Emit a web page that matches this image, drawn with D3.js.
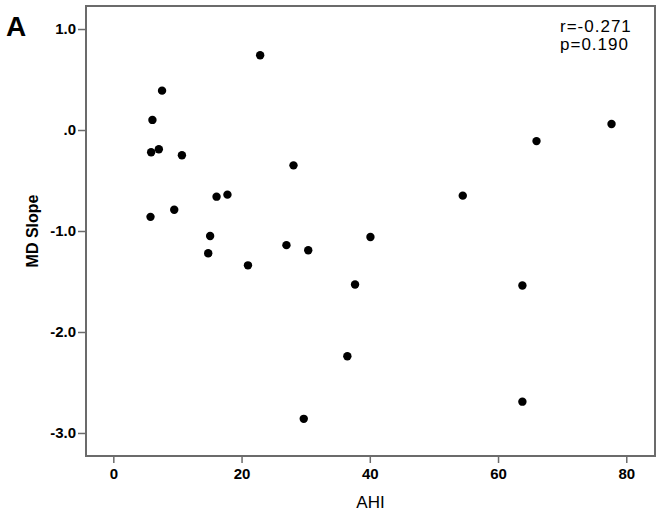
<!DOCTYPE html>
<html>
<head>
<meta charset="utf-8">
<script src="https://cdn.jsdelivr.net/npm/d3@7"></script>
<style>
  body { margin: 0; background: #fff; }
  text { font-family: "Liberation Sans", Arial, sans-serif; }
</style>
</head>
<body>
<script>
// AHI (x) and MD slope (y) for each subject
var ahi = [22.9, 7.6, 6.1, 5.9, 7.1, 10.7, 28.1, 16.1, 17.8, 9.5, 5.8, 15.1, 14.8,
  21.0, 27.0, 30.4, 36.5, 29.7, 77.7, 66.0, 54.5, 40.1, 37.7, 63.8, 63.8];
var mdSlope = [0.74, 0.39, 0.10, -0.22, -0.19, -0.25, -0.35, -0.66, -0.64, -0.79, -0.86, -1.05, -1.22,
  -1.34, -1.14, -1.19, -2.24, -2.86, 0.06, -0.11, -0.65, -1.06, -1.53, -1.54, -2.69];

var xTicks = [0, 20, 40, 60, 80];
var yTicks = [1, 0, -1, -2, -3];
var yTickLabels = ['1.0', '.0', '-1.0', '-2.0', '-3.0'];
var statLines = ['r=-0.271', 'p=0.190'];

var W = 663, H = 514;
var margin = {top: 6, right: 8, bottom: 58, left: 86};

var svg = d3.select('body').append('svg')
  .attr('width', W)
  .attr('height', H);

// scales padded a bit past the tick range, like the SPSS frame
var x = d3.scaleLinear().domain([-4.26, 84.48]).range([margin.left, W - margin.right]);
var y = d3.scaleLinear().domain([-3.228, 1.228]).range([H - margin.bottom, margin.top]);

var frameColor = '#6b6b6b';

// x axis
var xAxis = svg.append('g')
  .attr('transform', 'translate(0,' + (H - margin.bottom) + ')')
  .call(d3.axisBottom(x).tickValues(xTicks).tickSize(7).tickPadding(5).tickFormat(d3.format('d')));

// y axis
var yAxis = svg.append('g')
  .attr('transform', 'translate(' + margin.left + ',0)')
  .call(d3.axisLeft(y).tickValues(yTicks).tickSize(8).tickPadding(2)
    .tickFormat(function(d, i) { return yTickLabels[i]; }));

[xAxis, yAxis].forEach(function(g) {
  g.select('.domain').remove();
  g.selectAll('.tick line').attr('stroke', frameColor).attr('stroke-width', 1.5);
  g.selectAll('.tick text')
    .attr('fill', '#000')
    .style('font-family', '"Liberation Sans", Arial, sans-serif')
    .style('font-size', '15px')
    .style('font-weight', 'bold');
});

// box round the plot
svg.append('rect')
  .attr('x', margin.left)
  .attr('y', margin.top)
  .attr('width', W - margin.left - margin.right)
  .attr('height', H - margin.top - margin.bottom)
  .attr('fill', 'none')
  .attr('stroke', frameColor)
  .attr('stroke-width', 2);

// points
svg.selectAll('circle.pt')
  .data(ahi)
  .enter()
  .append('circle')
  .attr('class', 'pt')
  .attr('cx', function(d) { return x(d); })
  .attr('cy', function(d, i) { return y(mdSlope[i]); })
  .attr('r', 4.2)
  .attr('fill', '#000');

// axis titles
svg.append('text')
  .attr('x', (margin.left + W - margin.right) / 2)
  .attr('y', 508)
  .attr('text-anchor', 'middle')
  .style('font-size', '17px')
  .text('AHI');

svg.append('text')
  .attr('transform', 'translate(38,' + ((margin.top + H - margin.bottom) / 2) + ') rotate(-90)')
  .attr('text-anchor', 'middle')
  .style('font-size', '16px')
  .style('font-weight', 'bold')
  .text('MD Slope');

// correlation note, top right
svg.selectAll('text.stat')
  .data(statLines)
  .enter()
  .append('text')
  .attr('class', 'stat')
  .attr('x', 560)
  .attr('y', function(d, i) { return 32 + i * 18; })
  .style('font-size', '17px')
  .style('letter-spacing', '1px')
  .text(function(d) { return d; });

// panel letter
svg.append('text')
  .attr('x', 6)
  .attr('y', 36)
  .style('font-size', '28px')
  .style('font-weight', 'bold')
  .text('A');
</script>
</body>
</html>
